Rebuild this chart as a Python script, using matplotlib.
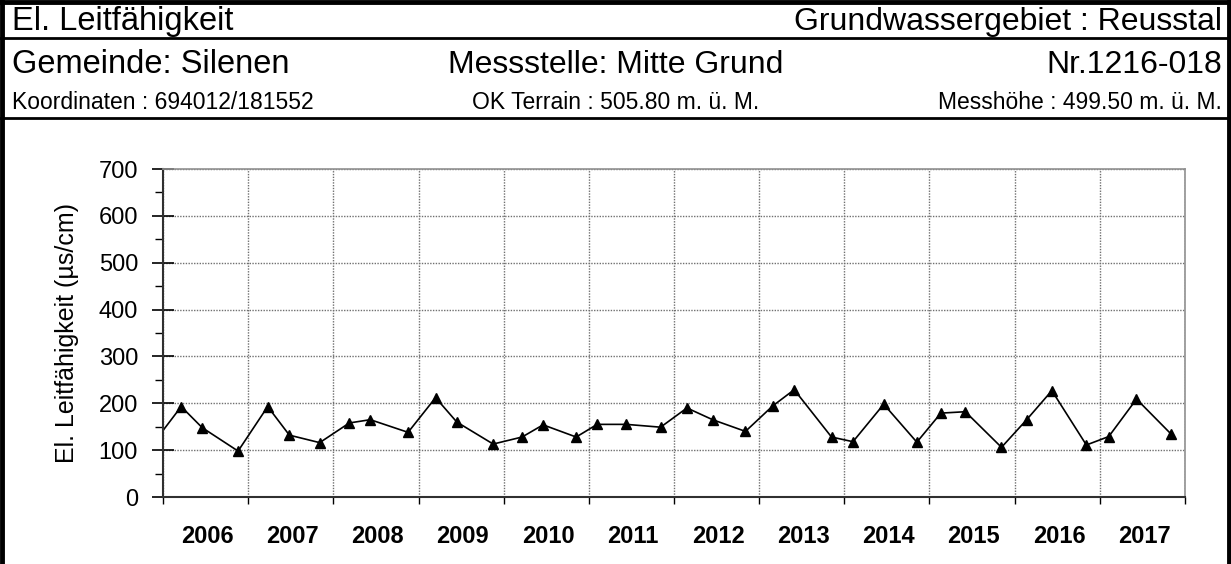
import numpy as np
import matplotlib
matplotlib.use("Agg")
import matplotlib.pyplot as plt
import matplotlib.dates as mdates
from matplotlib.lines import Line2D
from matplotlib.ticker import MultipleLocator, NullFormatter

plt.rcParams['font.family'] = ['Liberation Sans', 'DejaVu Sans']

# Messdaten El. Leitfähigkeit (µS/cm)
dates = np.array([
    '2005-11-01', '2006-03-20', '2006-06-18', '2006-11-19',
    '2007-03-26', '2007-06-27', '2007-11-04',
    '2008-03-10', '2008-06-08', '2008-11-17',
    '2009-03-15', '2009-06-14', '2009-11-17',
    '2010-03-21', '2010-06-19', '2010-11-08',
    '2011-02-06', '2011-06-11', '2011-11-05',
    '2012-02-26', '2012-06-15', '2012-11-03',
    '2013-02-27', '2013-05-31', '2013-11-07',
    '2014-02-07', '2014-06-19', '2014-11-08',
    '2015-02-19', '2015-06-04', '2015-11-06',
    '2016-02-22', '2016-06-09', '2016-11-04',
    '2017-02-08', '2017-06-07', '2017-11-01',
], dtype='datetime64[D]')
values = [
    102, 193, 148, 98,
    193, 132, 116,
    158, 165, 138,
    212, 160, 113,
    128, 154, 128,
    155, 155, 149,
    190, 165, 140,
    194, 229, 128,
    118, 198, 117,
    179, 182, 106,
    165, 227, 111,
    129, 209, 135,
]

title_left = "El. Leitfähigkeit"
title_right = "Grundwassergebiet : Reusstal"
gemeinde = "Gemeinde: Silenen"
messstelle = "Messstelle: Mitte Grund"
nummer = "Nr.1216-018"
koordinaten = "Koordinaten : 694012/181552"
terrain = "OK Terrain : 505.80 m. ü. M."
messhoehe = "Messhöhe : 499.50 m. ü. M."
ylabel = "El. Leitfähigkeit (µs/cm)"

W, H = 1231, 564
fig = plt.figure(figsize=(W / 100, H / 100), dpi=100)


def fx(px):
    return px / W


def fy(py):
    return 1 - py / H


# Rahmen und Trennlinien des Kopfes
for x in (2, W - 2):
    fig.add_artist(Line2D([fx(x), fx(x)], [fy(1), 0], color='black', lw=3.5))
for y, lw in ((2, 3.5), (38, 2), (118, 2)):
    fig.add_artist(Line2D([0, 1], [fy(y), fy(y)], color='black', lw=lw))

# Kopfzeilen
fig.text(fx(12), fy(30), title_left, fontsize=23.5, va='baseline')
fig.text(fx(1222), fy(30), title_right, fontsize=23, va='baseline', ha='right')
fig.text(fx(12), fy(73), gemeinde, fontsize=23.5, va='baseline')
fig.text(fx(616), fy(73), messstelle, fontsize=23, va='baseline', ha='center')
fig.text(fx(1222), fy(73), nummer, fontsize=23, va='baseline', ha='right')
fig.text(fx(12), fy(109), koordinaten, fontsize=16.5, va='baseline')
fig.text(fx(616), fy(109), terrain, fontsize=16.5, va='baseline', ha='center')
fig.text(fx(1222), fy(109), messhoehe, fontsize=16.5, va='baseline', ha='right')

# Diagramm
ax = fig.add_axes([fx(163), fy(497), fx(1185 - 163), (497 - 169) / H])
ax.plot(dates, values, color='black', lw=1.2, marker='^', markersize=7.5,
        markerfacecolor='black')

ax.set_xlim(np.datetime64('2006-01-01'), np.datetime64('2018-01-01'))
ax.set_ylim(0, 700)

ax.yaxis.set_major_locator(MultipleLocator(100))
ax.yaxis.set_minor_locator(MultipleLocator(50))
ax.tick_params(axis='y', which='major', direction='inout', length=16, width=1.2,
               labelsize=17, pad=10)
ax.tick_params(axis='y', which='minor', direction='out', length=6, width=1)

ax.xaxis.set_major_locator(mdates.YearLocator())
ax.xaxis.set_major_formatter(NullFormatter())
ax.xaxis.set_minor_locator(mdates.MonthLocator(bymonth=7, bymonthday=10))
ax.xaxis.set_minor_formatter(mdates.DateFormatter('%Y'))
ax.tick_params(axis='x', which='major', direction='out', length=5, width=1)
ax.tick_params(axis='x', which='minor', length=0, pad=20, labelsize=17)
for lab in ax.get_xticklabels(minor=True):
    lab.set_fontweight('bold')

ax.grid(True, which='major', color='#707070', linestyle=(0, (1, 1)), lw=1)
ax.set_axisbelow(True)

for side in ('left', 'bottom'):
    ax.spines[side].set_color('#303030')
    ax.spines[side].set_linewidth(1.5)
for side in ('top', 'right'):
    ax.spines[side].set_color('#909090')
    ax.spines[side].set_linewidth(1.2)

ax.set_ylabel(ylabel, fontsize=18, labelpad=14)

fig.savefig('out.png', dpi=100)
